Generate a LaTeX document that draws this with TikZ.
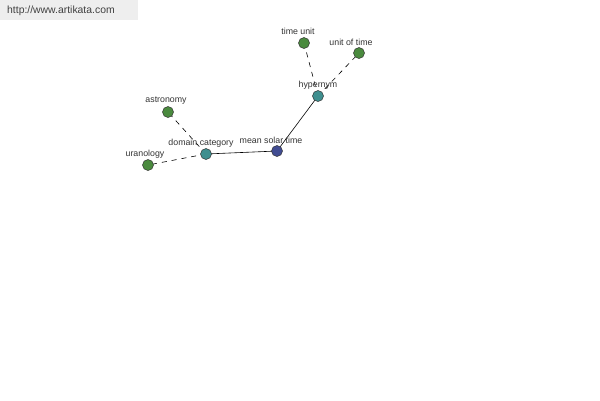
\documentclass[tikz,border=0pt]{standalone}
\usepackage{fontspec}
\setmainfont{Liberation Sans}
\definecolor{gn}{HTML}{4A8A3E}
\definecolor{tl}{HTML}{3F8F8F}
\definecolor{bl}{HTML}{414C92}
\definecolor{banner}{HTML}{EEEEEE}
\begin{document}
\begin{tikzpicture}[x=1pt,y=-1pt,
  dot/.style={circle,draw=black!80,line width=0.5pt,minimum size=11pt,inner sep=0pt},
  lbl/.style={font=\fontsize{8.8}{10}\selectfont,text=black!80,inner sep=0pt},
  sol/.style={draw=black,line width=0.6pt},
  dsh/.style={draw=black,line width=0.6pt,dash pattern=on 5pt off 5pt}]
\useasboundingbox (0,0) rectangle (600,400);
\fill[banner] (0,0) rectangle (138,20);
\node[font=\fontsize{10.4}{12}\selectfont,text=black!75,anchor=west,inner sep=0pt] (url) at (7,11) {http://www.artikata.com};
\coordinate (cm) at (277,151);
\coordinate (cd) at (206,154);
\coordinate (ch) at (318,96);
\coordinate (ct) at (304,43);
\coordinate (cu) at (359,53);
\coordinate (ca) at (168,112);
\coordinate (cr) at (148,165);
\draw[sol] (cm) -- (cd);
\draw[sol] (cm) -- (ch);
\draw[dsh] (cd) -- (ca);
\draw[dsh] (cd) -- (cr);
\draw[dsh] (ch) -- (ct);
\draw[dsh] (ch) -- (cu);
\node[dot,fill=bl] (m) at (cm) {};
\node[dot,fill=tl] (d) at (cd) {};
\node[dot,fill=tl] (h) at (ch) {};
\node[dot,fill=gn] (t) at (ct) {};
\node[dot,fill=gn] (u) at (cu) {};
\node[dot,fill=gn] (a) at (ca) {};
\node[dot,fill=gn] (r) at (cr) {};
\node[lbl] (lm) at (271,140) {mean solar time};
\node[lbl] (ld) at (201,143) {domain category};
\node[lbl] (lh) at (318,85) {hypernym};
\node[lbl] (lt) at (298,31) {time unit};
\node[lbl] (lu) at (351,42) {unit of time};
\node[lbl] (la) at (166,101) {astronomy};
\node[lbl] (lr) at (145,154) {uranology};
\end{tikzpicture}
\end{document}
